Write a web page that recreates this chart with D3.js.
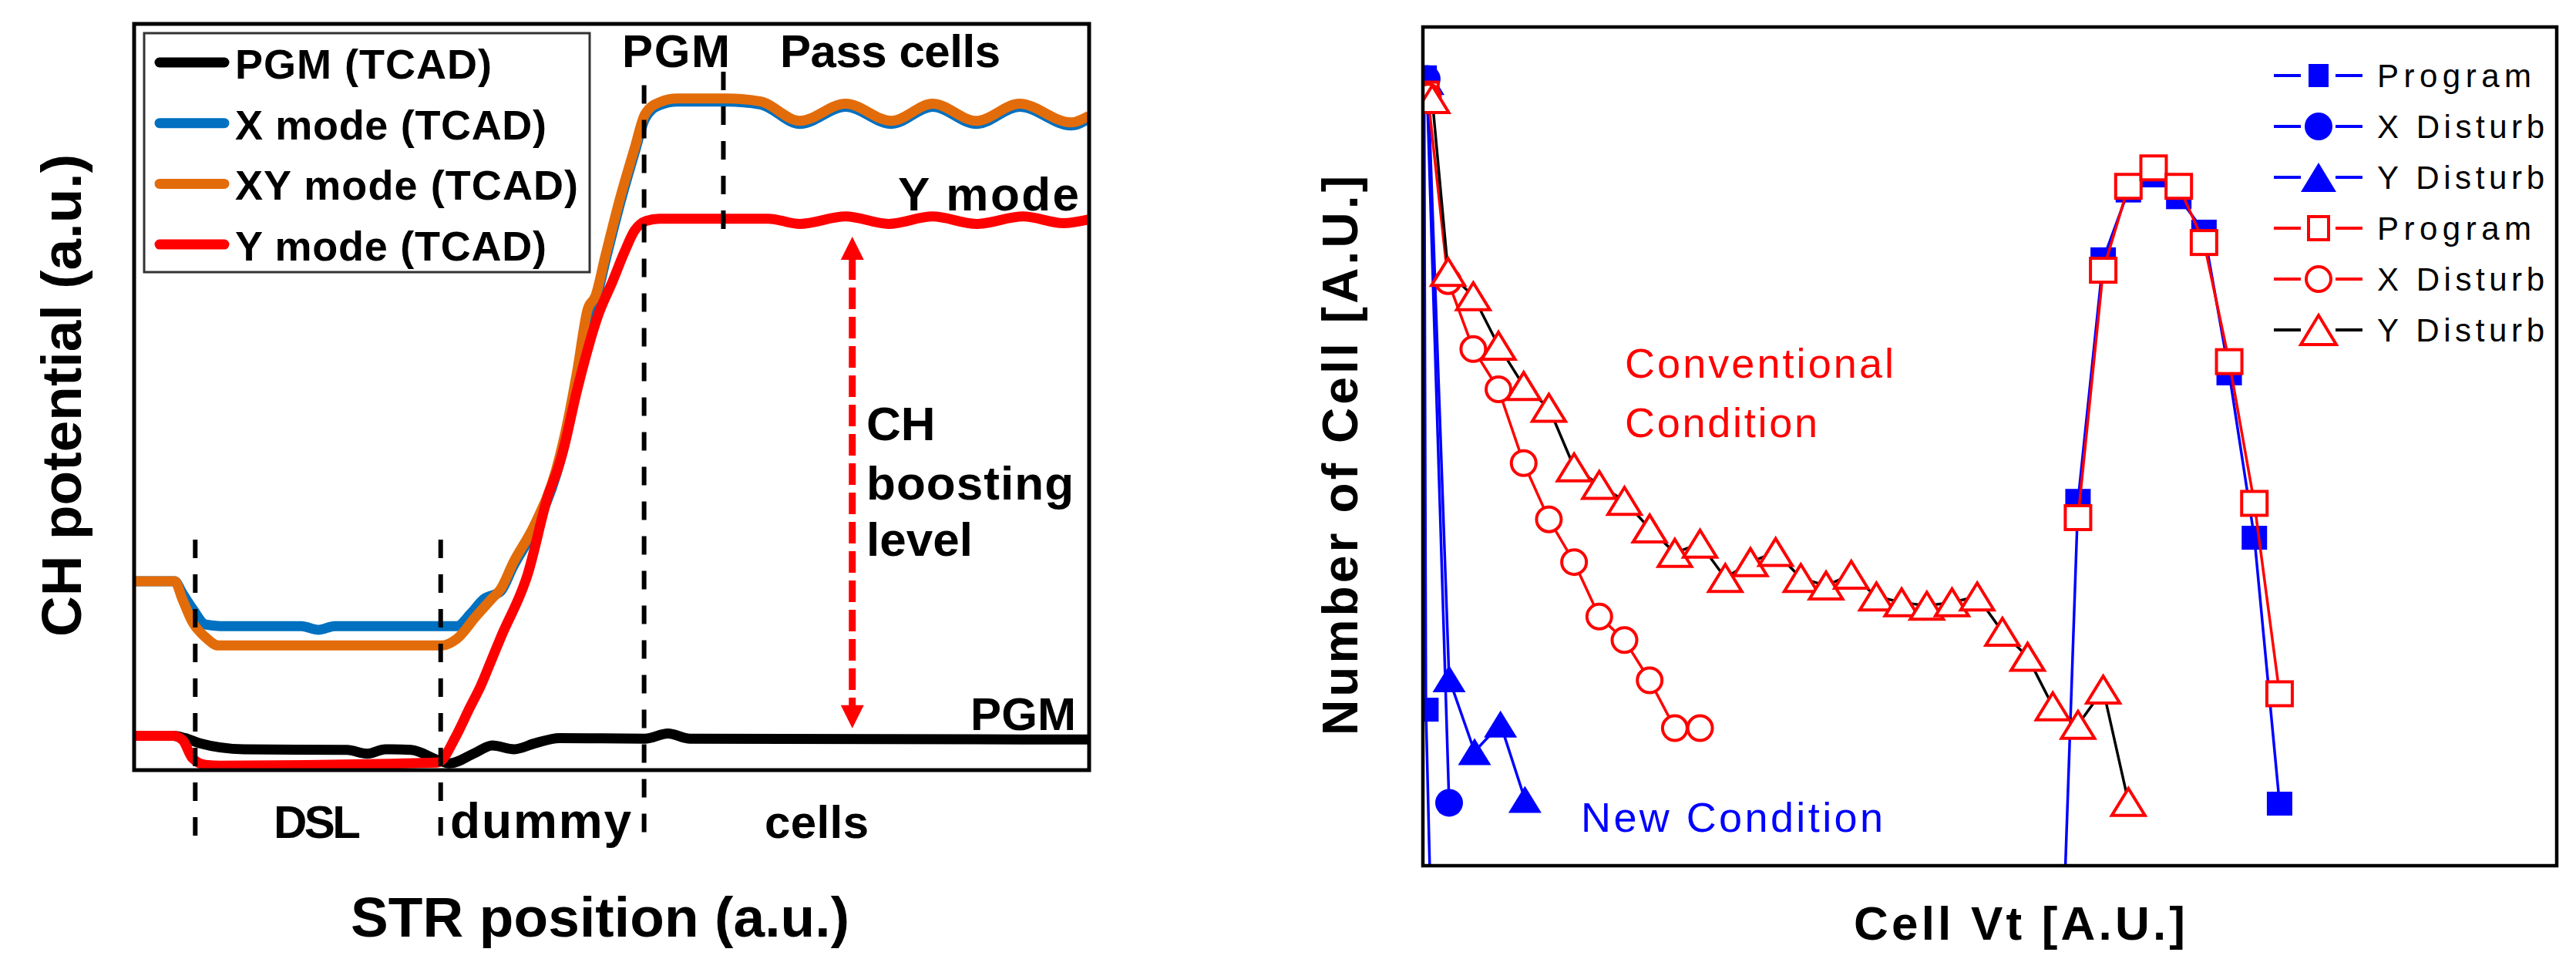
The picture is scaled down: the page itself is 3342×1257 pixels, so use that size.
<!DOCTYPE html>
<html><head><meta charset="utf-8">
<script src="https://cdn.jsdelivr.net/npm/d3@7"></script>
<style>html,body{margin:0;padding:0;background:#fff;} svg{display:block}</style>
</head><body>
<svg id="c" width="3342" height="1257"></svg>
<script>
// ================= LEFT CHART DATA (STR position a.u. , CH potential a.u.) =================
const pgmTCAD = [[0,4.6],[4.1,4.6],[5.3,4.3],[6.9,3.6],[11.5,2.8],[22.3,2.7],[24.4,2.2],[26.3,2.8],[29.0,2.7],[32.1,1.2],[33.0,0.9],[35.7,2.3],[37.5,3.3],[39.8,2.8],[42.0,3.6],[44.5,4.3],[53.5,4.2],[55.9,4.9],[58.2,4.2],[100,4.1]];
const xModeTCAD = [[0,25.3],[4.25,25.3],[5.06,23.7],[6.13,21.6],[7.48,19.5],[9,19.3],[17.5,19.3],[19.3,18.8],[21,19.3],[33.8,19.3],[35.2,20.9],[36.6,22.9],[38.4,24.0],[39.7,27.3],[41.9,32.3],[44.2,39.6],[45.3,45.0],[46.4,52.6],[47.5,60.8],[48.3,62.8],[49.4,68.5],[50.9,76.0],[52.4,82.7],[53.5,87.3],[55.0,89.1],[56.9,89.6],[62,89.6],[65.6,89.2],[69.7,86.6],[74.5,88.9],[79.3,86.6],[83.6,88.9],[88.2,86.6],[92.7,88.9],[98.1,86.4],[100,87.3]];
const xyModeTCAD = [[0,25.3],[4.25,25.3],[5.06,22.9],[6.13,19.8],[7.48,17.8],[8.82,16.7],[32.2,16.7],[33.8,17.6],[35.8,20.6],[37.4,22.9],[38.4,24.3],[39.7,27.8],[41.9,32.8],[44.2,40.3],[45.3,46.1],[46.4,53.5],[47.5,61.8],[48.3,63.5],[49.4,69.2],[50.9,76.7],[52.4,83.3],[53.5,87.9],[55.0,89.5],[56.9,90.0],[62,90.0],[65.6,89.6],[69.7,87.0],[74.5,89.3],[79.3,87.0],[83.6,89.3],[88.2,87.0],[92.7,89.3],[98.1,86.8],[100,87.7]];
const yModeTCAD = [[0,4.6],[4.1,4.6],[5.1,4.0],[6.1,1.6],[7.5,0.7],[9,0.6],[31.7,1.0],[32.1,1.2],[33.6,4.3],[35.2,8.5],[36.3,11.3],[37.4,14.7],[38.4,17.8],[41.2,26.2],[43.4,37.0],[44.4,40.5],[44.9,42.7],[46.4,51.0],[48.6,61.0],[50.1,65.5],[51.3,69.3],[52.4,72.3],[53.6,73.6],[55,73.9],[66.4,73.9],[69.7,73.2],[74.5,74.2],[79.0,73.2],[83.6,74.2],[88.2,73.2],[93.1,74.2],[97.3,73.3],[100,73.8]];
const leftLegendLabels = ["PGM (TCAD)","X mode (TCAD)","XY mode (TCAD)","Y mode (TCAD)"];
// region boundaries (x position, dashed line from yTop to yBottom, a.u.)
const dividerX = [6.4, 32.1, 53.4, 61.7];
const dividerTop = [30.9, 30.9, 91.8, 93.6];
const dividerBottom = [-9.1, -9.1, -9.1, 72.4];
// CH boosting level arrow (x, from PGM level to Y mode level)
const boostArrow = {x:75.2, from:5.6, to:71.5};

// ================= RIGHT CHART DATA (Cell Vt index, Number of cells a.u.) =================
const newProgram = [[0.05,94],[0.12,18.6],[0.27,0],[25.5,0],[26,43.5],[27,72.3],[28,80.5],[29,82.3],[30,79.7],[31,75.6],[32,58.7],[33,39.1],[34,7.4]];
const newXDisturb = [[0.15,93.8],[1.04,7.5]];
const newYDisturb = [[0.2,93.5],[1.04,22.3],[2.05,13.6],[3.08,16.9],[4.05,7.9]];
const convProgram = [[0.1,92],null,[26,41.5],[27,71.0],[28,81.0],[29,83.2],[30,81.0],[31,74.3],[32,60.1],[33,43.2],[34,20.5]];
const convXDisturb = [[0.2,91.7],[1,69.7],[2,61.6],[3,56.8],[4,48.0],[5,41.3],[6,36.2],[7,29.7],[8,26.9],[9,22.1],[10,16.4],[11,16.4]];
const convYDisturb = [[0.37,91.4],[1,70.8],[2,67.9],[3,62.0],[4,57.2],[5,54.6],[6,47.5],[7,45.4],[8,43.5],[9,40.2],[10,37.3],[11,38.4],[12,34.3],[13,36.2],[14,37.4],[15,34.3],[16,33.4],[17,34.7],[18,32.1],[19,31.4],[20,31.0],[21,31.4],[22,32.1],[23,27.9],[24,24.9],[25,19.0],[26,16.8],[27,21.0],[28,7.6]];
const rightLegendLabels = ["Program","X Disturb","Y Disturb","Program","X Disturb","Y Disturb"];

// ================= DRAWING =================
const FONT = "'Liberation Sans', Arial, sans-serif";
const svg = d3.select("#c");
svg.append("rect").attr("width",3342).attr("height",1257).attr("fill","#fff");
const defs = svg.append("defs");

// ---------- LEFT ----------
const L = {x0:174, x1:1413, y0:31, y1:999};
const xL = d3.scaleLinear().domain([0,100]).range([L.x0, L.x1]);
const yL = d3.scaleLinear().domain([0,100]).range([L.y1, L.y0]);
defs.append("clipPath").attr("id","clipL").append("rect")
  .attr("x",L.x0).attr("y",L.y0).attr("width",L.x1-L.x0).attr("height",L.y1-L.y0);

const lineL = d3.line().x(d=>xL(d[0])).y(d=>yL(d[1])).curve(d3.curveMonotoneX);
const leftSeries = [
  {data:xModeTCAD, color:"#0070C0"},
  {data:xyModeTCAD, color:"#E36C0A"},
  {data:pgmTCAD, color:"#000000"},
  {data:yModeTCAD, color:"#FF0000"}
];
const gLData = svg.append("g").attr("clip-path","url(#clipL)");
leftSeries.forEach(s => {
  gLData.append("path").attr("d", lineL(s.data)).attr("fill","none")
    .attr("stroke", s.color).attr("stroke-width", 13).attr("stroke-linejoin","round");
});

// dashed region dividers
dividerX.forEach((x,i) => {
  svg.append("line").attr("x1",xL(x)).attr("x2",xL(x))
    .attr("y1",yL(dividerTop[i])).attr("y2",yL(dividerBottom[i]))
    .attr("stroke","#000").attr("stroke-width",6).attr("stroke-dasharray","24,21");
});

// boosting arrow
{
  const ax = xL(boostArrow.x), yTop = yL(boostArrow.to), yBot = yL(boostArrow.from);
  const head = 30, hw = 15;
  svg.append("line").attr("x1",ax).attr("x2",ax).attr("y1",yTop+head-2).attr("y2",yBot-head+2)
    .attr("stroke","#FF0000").attr("stroke-width",9).attr("stroke-dasharray","28,10");
  svg.append("path").attr("d",`M${ax},${yTop}L${ax-hw},${yTop+head}L${ax+hw},${yTop+head}Z`).attr("fill","#FF0000");
  svg.append("path").attr("d",`M${ax},${yBot}L${ax-hw},${yBot-head}L${ax+hw},${yBot-head}Z`).attr("fill","#FF0000");
}

// frame
svg.append("rect").attr("x",L.x0).attr("y",L.y0).attr("width",L.x1-L.x0).attr("height",L.y1-L.y0)
  .attr("fill","none").attr("stroke","#000").attr("stroke-width",5);

// legend
const lg = svg.append("g");
lg.append("rect").attr("x",187).attr("y",43).attr("width",578).attr("height",310)
  .attr("fill","#fff").attr("stroke","#333").attr("stroke-width",3);
const legColors = ["#000000","#0070C0","#E36C0A","#FF0000"];
const legWidths = [333,404,445,404];
leftLegendLabels.forEach((t,i) => {
  const cy = 81 + i*78.7;
  lg.append("line").attr("x1",207).attr("x2",291).attr("y1",cy).attr("y2",cy)
    .attr("stroke",legColors[i]).attr("stroke-width",13).attr("stroke-linecap","round");
  lg.append("text").attr("x",305).attr("y",cy+21).text(t)
    .attr("font-family",FONT).attr("font-weight","bold").attr("font-size",54)
    .attr("textLength",legWidths[i]).attr("lengthAdjust","spacing");
});

function label(txt, x, y, size, len, opts={}) {
  const t = svg.append("text").attr("x",x).attr("y",y).text(txt)
    .attr("font-family",FONT).attr("font-size",size)
    .attr("font-weight", opts.weight || "bold").attr("fill", opts.fill || "#000");
  if (len) t.attr("textLength",len).attr("lengthAdjust","spacing");
  if (opts.rotate) t.attr("transform",`rotate(-90,${x},${y})`).attr("text-anchor","middle");
  if (opts.anchor) t.attr("text-anchor",opts.anchor);
  return t;
}
label("PGM", 807, 87, 60, 140);
label("Pass cells", 1012, 87, 60, 286);
label("Y mode", 1165, 273, 62, 235);
label("CH", 1124, 571, 62, null);
label("boosting", 1124, 648, 62, 269);
label("level", 1124, 721, 62, null);
label("PGM", 1259, 947, 60, 137);
label("DSL", 355, 1087, 60, 113);
label("dummy", 584, 1087, 64, 235);
label("cells", 992, 1087, 60, 135);
label("STR position (a.u.)", 455, 1215, 73, 647);
label("CH potential (a.u.)", 105, 513, 73, 626, {rotate:true});

// ---------- RIGHT ----------
const R = {x0:1846, x1:3317, y0:35, y1:1123};
const xR = d3.scaleLinear().domain([0,45]).range([R.x0, R.x1]);
const yR = d3.scaleLinear().domain([0,100]).range([R.y1, R.y0]);
defs.append("clipPath").attr("id","clipR").append("rect")
  .attr("x",R.x0).attr("y",R.y0).attr("width",R.x1-R.x0).attr("height",R.y1-R.y0);
const lineR = d3.line().defined(d=>d).x(d=>xR(d[0])).y(d=>yR(d[1]));

function drawMarker(g, shape, cx, cy, filled, color, big) {
  const fill = filled ? color : "#fff";
  const sw = filled ? 0 : 4;
  if (shape === "square") {
    const w = big ? 33 : 26, h = big ? 31 : 30;
    g.append("rect").attr("x",cx-w/2).attr("y",cy-h/2).attr("width",w).attr("height",h)
      .attr("fill",fill).attr("stroke",color).attr("stroke-width",sw);
  } else if (shape === "circle") {
    g.append("circle").attr("cx",cx).attr("cy",cy).attr("r", filled ? 18 : 16)
      .attr("fill",fill).attr("stroke",color).attr("stroke-width",sw);
  } else {
    const w = big ? 43 : 46, h = big ? 35 : 38;
    g.append("path").attr("d",`M${cx},${cy-h/2}L${cx+w/2},${cy+h/2}L${cx-w/2},${cy+h/2}Z`)
      .attr("fill",fill).attr("stroke",color).attr("stroke-width",sw).attr("stroke-linejoin","miter");
  }
}

const rightSeries = [
  {data:newProgram,  line:"#0000FF", mark:"#0000FF", shape:"square",   filled:true},
  {data:newXDisturb, line:"#0000FF", mark:"#0000FF", shape:"circle",   filled:true},
  {data:newYDisturb, line:"#0000FF", mark:"#0000FF", shape:"triangle", filled:true},
  {data:convProgram, line:"#FF0000", mark:"#FF0000", shape:"square",   filled:false},
  {data:convXDisturb,line:"#FF0000", mark:"#FF0000", shape:"circle",   filled:false},
  {data:convYDisturb,line:"#000000", mark:"#FF0000", shape:"triangle", filled:false}
];
const gRData = svg.append("g").attr("clip-path","url(#clipR)");
rightSeries.forEach(s => {
  gRData.append("path").attr("d", lineR(s.data)).attr("fill","none")
    .attr("stroke", s.line).attr("stroke-width", 3.5).attr("stroke-linejoin","round");
  s.data.filter(d => d && d[1] > 0).forEach(d => drawMarker(gRData, s.shape, xR(d[0]), yR(d[1]), s.filled, s.mark, true));
});

// frame
svg.append("rect").attr("x",R.x0).attr("y",R.y0).attr("width",R.x1-R.x0).attr("height",R.y1-R.y0)
  .attr("fill","none").attr("stroke","#000").attr("stroke-width",4.5);

// legend
const lgW = [200,217,217,200,217,217];
rightSeries.forEach((s,i) => {
  const cy = 98 + i*66;
  svg.append("line").attr("x1",2950).attr("x2",2985).attr("y1",cy).attr("y2",cy).attr("stroke",s.line).attr("stroke-width",4);
  svg.append("line").attr("x1",3030).attr("x2",3065).attr("y1",cy).attr("y2",cy).attr("stroke",s.line).attr("stroke-width",4);
  drawMarker(svg, s.shape, 3008, cy, s.filled, s.mark, false);
  label(rightLegendLabels[i], 3084, cy+15, 42, lgW[i], {weight:"normal"});
});

label("Conventional", 2108, 490, 54, 349, {weight:"normal", fill:"#FF0000"});
label("Condition", 2108, 567, 54, 250, {weight:"normal", fill:"#FF0000"});
label("New Condition", 2051, 1079, 54, 392, {weight:"normal", fill:"#0000FF"});
label("Cell Vt [A.U.]", 2405, 1219, 62, 430);
label("Number of Cell [A.U.]", 1761, 591, 64, 726, {rotate:true});
</script>
</body></html>
